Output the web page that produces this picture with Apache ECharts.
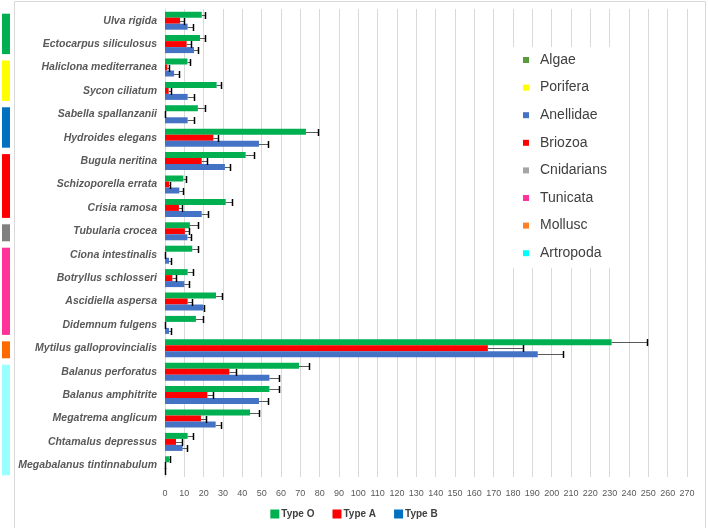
<!DOCTYPE html>
<html><head><meta charset="utf-8">
<script src="https://cdn.jsdelivr.net/npm/echarts@6/dist/echarts.min.js"></script>
<style>html,body{margin:0;padding:0;background:#fff}#c{width:708px;height:528px}</style>
</head><body><div id="c"></div><script>
const species = ['Ulva rigida','Ectocarpus siliculosus','Haliclona mediterranea','Sycon ciliatum','Sabella spallanzanii','Hydroides elegans','Bugula neritina','Schizoporella errata','Crisia ramosa','Tubularia crocea','Ciona intestinalis','Botryllus schlosseri','Ascidiella aspersa','Didemnum fulgens','Mytilus galloprovincialis','Balanus perforatus','Balanus amphitrite','Megatrema anglicum','Chtamalus depressus','Megabalanus tintinnabulum'];
const typeO    = [19.0,18.1,11.6,26.7,17.0,72.9,41.7,9.5,31.4,12.9,14.1,11.7,26.4,16.0,231.0,69.3,54.0,44.0,11.7,2.2];
const typeOErr = [1.7,2.6,1.5,2.1,3.9,6.4,4.5,1.4,3.4,4.3,2.9,3.0,2.9,3.8,18.5,5.2,5.1,4.6,3.0,0.4];
const typeA    = [7.8,11.2,1.2,1.9,0,25.0,19.0,2.1,7.2,10.3,0,3.8,11.7,0,167.0,33.3,21.9,18.6,5.7,0];
const typeAErr = [2.2,2.1,0.7,1.0,0,2.6,2.9,0.7,1.8,2.0,0,1.9,2.5,0,18.4,3.2,3.1,2.6,2.9,0];
const typeB    = [11.7,15.0,4.7,11.7,11.7,48.6,31.0,7.4,19.0,11.6,2.1,10.0,19.8,2.1,192.8,54.0,48.6,26.2,9.1,0];
const typeBErr = [2.6,2.0,2.7,3.5,3.5,4.8,2.6,1.7,3.4,1.7,0.8,2.2,0.4,0.8,13.1,5.1,4.5,2.6,2.5,0];
const seriesNames = ['Type O','Type A','Type B'];
const seriesColors = ['#00B050','#FF0000','#4472C4'];
const legendIconColors = ['#00B050','#FF0000','#0070C0'];
const groupNames = ['Algae','Porifera','Anellidae','Briozoa','Cnidarians','Tunicata','Mollusc','Artropoda'];
const groupLegendColors = ['#5B9B3C','#FFFF00','#4472C4','#FF0000','#A5A5A5','#FF3399','#FF7F27','#00FFFF'];
const groupStripColors = ['#00B050','#FFFF00','#0070C0','#FF0000','#808080','#FF3399','#FF6A00','#99FFFF'];
const groupFirst = [0,2,4,6,9,10,14,15];
const groupLast  = [1,3,5,8,9,13,14,19];
const xMin = 0, xMax = 270, xStep = 10;

const chart = echarts.init(document.getElementById('c'));
const barW = 6;
const values = [typeO, typeA, typeB];
const errs = [typeOErr, typeAErr, typeBErr];
const offsets = [-barW, 0, barW];

const barSeries = values.map((v, k) => ({
  type: 'bar', name: seriesNames[k], data: v, barWidth: barW, barGap: '0%',
  itemStyle: { color: seriesColors[k] }, z: 2, animation: false
}));
const errSeries = values.map((v, k) => ({
  type: 'custom', name: seriesNames[k] + ' err', silent: true, z: 5, animation: false,
  encode: { x: 0, y: 1 },
  data: v.map((val, i) => [val, i, errs[k][i]]),
  renderItem: (params, api) => {
    const val = api.value(0), i = api.value(1), e = api.value(2);
    const p0 = api.coord([val, i]);
    const p1 = api.coord([val + e, i]);
    const y = Math.round(p0[1] + offsets[k]) + 0.5;
    const xe = Math.round(p1[0]) + 0.5;
    return { type: 'group', children: [
      { type: 'line', shape: { x1: p0[0], y1: y, x2: xe, y2: y }, style: { stroke: '#595959', lineWidth: 1 } },
      { type: 'line', shape: { x1: xe, y1: y - 3.5, x2: xe, y2: y + 3.5 }, style: { stroke: '#000', lineWidth: 1.5 } }
    ]};
  }
}));

chart.setOption({
  animation: false,
  textStyle: { fontFamily: 'Liberation Sans' },
  grid: { left: 165, right: 21, top: 9, height: 468 },
  legend: {
    bottom: 4, left: 'center', itemWidth: 9, itemHeight: 9, itemGap: 18, icon: 'rect',
    data: seriesNames.map((n, k) => ({ name: n, itemStyle: { color: legendIconColors[k] } })),
    textStyle: { fontSize: 10, fontWeight: 'bold', color: '#404040', padding: [0, 0, 0, -3] }
  },
  xAxis: {
    type: 'value', min: xMin, max: xMax, interval: xStep,
    axisLine: { show: false }, axisTick: { show: false },
    axisLabel: { fontSize: 9, color: '#595959', margin: 12 },
    splitLine: { lineStyle: { color: '#d9d9d9', width: 1 } }
  },
  yAxis: {
    type: 'category', data: species, inverse: true,
    axisLine: { lineStyle: { color: '#d9d9d9' } }, axisTick: { show: false },
    axisLabel: { fontSize: 10.5, fontWeight: 'bold', fontStyle: 'italic', color: '#595959', margin: 8 }
  },
  series: [...barSeries, ...errSeries]
});

const graphics = [];
graphics.push({ type: 'rect', shape: { x: 14.5, y: 1.5, width: 691, height: 540 }, style: { fill: 'none', stroke: '#d9d9d9', lineWidth: 1 }, z: 1, silent: true });
groupNames.forEach((g, j) => {
  const yTop = chart.convertToPixel({ yAxisIndex: 0 }, groupFirst[j]) - 7;
  const yBot = chart.convertToPixel({ yAxisIndex: 0 }, groupLast[j]) + 10;
  graphics.push({ type: 'rect', shape: { x: 2, y: yTop, width: 8, height: yBot - yTop }, style: { fill: groupStripColors[j] }, z: 10, silent: true });
});
const boxX = 507, boxY = 47, boxW = 108, boxH = 221, step = 27.6;
graphics.push({ type: 'rect', shape: { x: boxX, y: boxY, width: boxW, height: boxH }, style: { fill: '#fff' }, z: 10, silent: true });
groupNames.forEach((g, j) => {
  const cy = boxY + 13 + j * step;
  graphics.push({ type: 'rect', shape: { x: boxX + 16, y: cy - 3, width: 6, height: 6 }, style: { fill: groupLegendColors[j] }, z: 11, silent: true });
  graphics.push({ type: 'text', x: boxX + 33, y: cy, style: { text: g, fill: '#404040', font: '14px "Liberation Sans"', textVerticalAlign: 'middle' }, z: 11, silent: true });
});
chart.setOption({ graphic: graphics });
</script></body></html>
